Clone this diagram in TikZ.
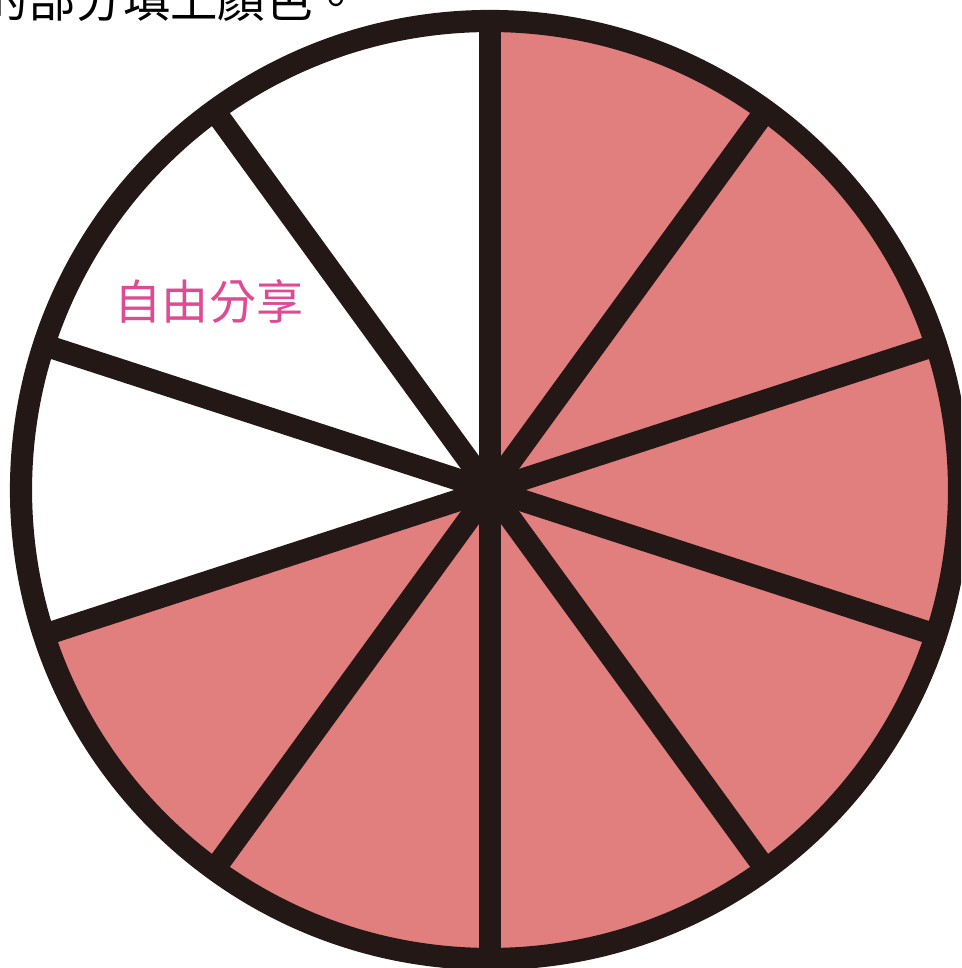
\documentclass[tikz,border=0pt]{standalone}
\usepackage{fontspec}
\newfontfamily\cjk{Noto Sans CJK TC}
\definecolor{ink}{HTML}{231815}
\definecolor{piefill}{HTML}{E17F7F}
\definecolor{sharetext}{HTML}{DE4B92}

\begin{document}
\begin{tikzpicture}[%
        spoke/.style = {draw=ink, line width=6.3pt},
        rim/.style = {draw=ink, line width=6.3pt}
    ]
      \clip (0,0) rectangle (9.61,9.68);
      \coordinate (o) at (4.90,4.78);
      % coloured part
      \fill[piefill] (o) -- ++(90:4.69) arc [start angle=90, end angle=-162, radius=4.69] -- cycle;
      % spokes
      \foreach \a in {90,54,18,-18,-54,-90,-126,-162,162,126}
        \draw[spoke] (o) -- ++(\a:4.69);
      \draw[rim] (o) circle [radius=4.69];
      \node[text=sharetext] (share) at (2.09,6.66) {\cjk\fontsize{13.4}{16}\selectfont 自由分享};
      \node[anchor=base west, inner sep=0pt] (task) at (-0.20,9.50) {\cjk\fontsize{13.5}{16}\selectfont 的部分填上顏色。};
    \end{tikzpicture}
\end{document}
